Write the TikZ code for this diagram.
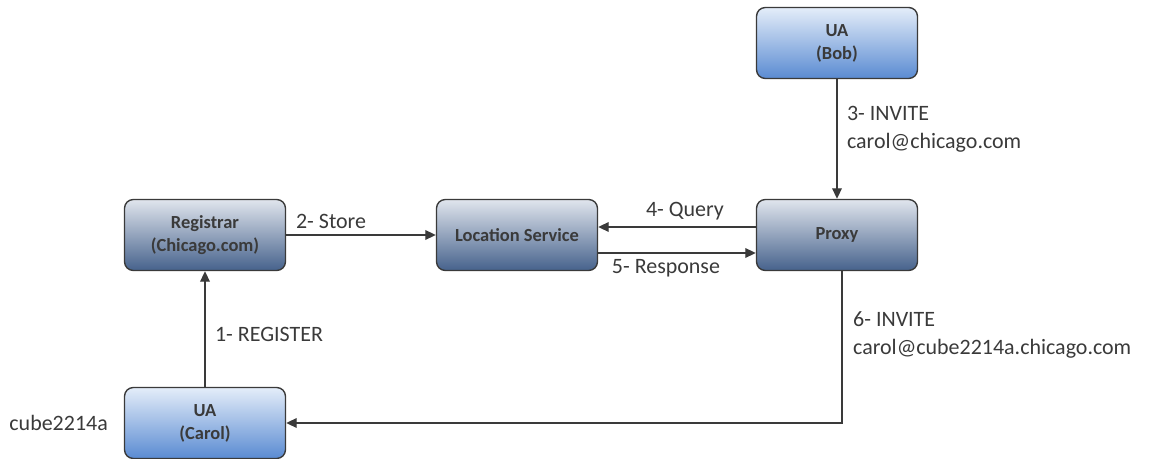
\documentclass[tikz,border=0pt]{standalone}
\usepackage{fontspec}
\setmainfont{Carlito}
\usetikzlibrary{arrows.meta}
\definecolor{uatop}{HTML}{E4EDF9}
\definecolor{uabot}{HTML}{5A8BD2}
\definecolor{srvtop}{HTML}{E0E5ED}
\definecolor{srvbot}{HTML}{46628C}
\definecolor{ink}{HTML}{3A3A3A}
\tikzset{
  ua/.style={draw=ink, line width=0.8pt, rounded corners=5pt, minimum width=3.22cm, minimum height=1.42cm,
    top color=uatop, bottom color=uabot, align=center, text=ink, font=\fontsize{10.5}{13}\selectfont\bfseries},
  srv/.style={ua, top color=srvtop, bottom color=srvbot},
  msg/.style={draw=ink, line width=0.8pt, -{Triangle[length=6pt,width=5.5pt]}},
  lbl/.style={text=ink, align=left, font=\fontsize{12.5}{16}\selectfont}
}
\begin{document}
\begin{tikzpicture}[x=0.02cm,y=-0.02cm]
\useasboundingbox (0,0) rectangle (1150,459);
\node[ua] (bob) at (837,43) {UA\\(Bob)};
\node[srv] (reg) at (205,235) {Registrar\\(Chicago.com)};
\node[srv] (loc) at (517,235) {Location Service};
\node[srv] (proxy) at (837,235) {Proxy};
\node[ua] (carol) at (205,423) {UA\\(Carol)};
\node[lbl, anchor=east] (host) at (114,423) {cube2214a};
\draw[msg] (bob) -- (proxy) node[lbl, pos=0.42, anchor=west, xshift=2pt] {3- INVITE\\carol@chicago.com};
\draw[msg] (reg) -- (loc) node[lbl, pos=0.3, above] {2- Store};
\draw[msg] ([yshift=0.16cm]proxy.west) -- ([yshift=0.16cm]loc.east) node[lbl, pos=0.45, above] {4- Query};
\draw[msg] ([yshift=-0.36cm]loc.east) -- ([yshift=-0.36cm]proxy.west) node[lbl, pos=0.43, below] {5- Response};
\draw[msg] (carol) -- (reg) node[lbl, pos=0.45, anchor=west, xshift=2pt] {1- REGISTER};
\draw[msg] ([xshift=0.1cm]proxy.south) |- (carol.east);
\node[lbl, anchor=north west] (inv) at (847,305) {6- INVITE\\carol@cube2214a.chicago.com};
\end{tikzpicture}
\end{document}
